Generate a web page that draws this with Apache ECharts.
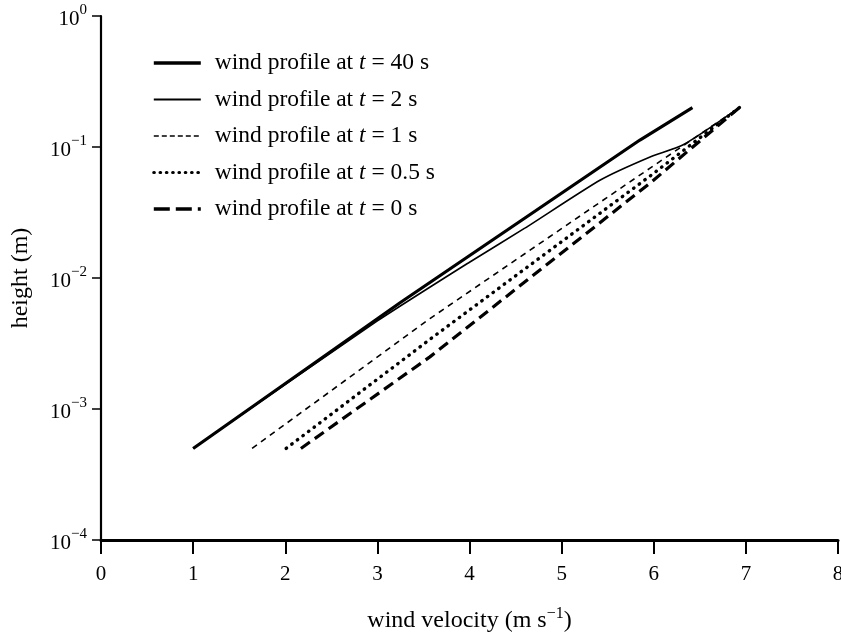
<!DOCTYPE html>
<html>
<head>
<meta charset="utf-8">
<script src="https://cdn.jsdelivr.net/npm/echarts@6/dist/echarts.min.js"></script>
<style>
  html, body { margin: 0; padding: 0; background: #fff; }
  #chart { width: 841px; height: 634px; }
</style>
</head>
<body>
<div id="chart"></div>
<script>
// wind velocity (m/s) and height (m)
const speed40 = [1.0, 3.25, 5.85, 6.42]
const height40 = [5e-4, 6.5e-3, 0.113, 0.2]
const speed2 = [1.0, 3.0, 4.0, 4.6, 5.42, 5.96, 6.32, 6.93]
const height2 = [5e-4, 4.7e-3, 0.0132, 0.024, 0.056, 0.084, 0.104, 0.2]
const speed1 = [1.64, 3.57, 5.96, 6.93]
const height1 = [5e-4, 4.9e-3, 0.069, 0.2]
const speed05 = [2.01, 3.57, 5.96, 6.93]
const height05 = [5e-4, 3.4e-3, 0.060, 0.2]
const speed0 = [2.17, 3.57, 5.96, 6.93]
const height0 = [5e-4, 2.5e-3, 0.053, 0.2]

const times = ['40', '2', '1', '0.5', '0'] // legend t values
const yExponents = [0, -1, -2, -3, -4] // tick labels 10^n

const serif = 'Liberation Serif'
const pairs = (xs, ys) => xs.map((x, i) => [x, ys[i]])

const chart = echarts.init(document.getElementById('chart'))

const lineStyles = [
  { width: 3.2, type: 'solid' },
  { width: 1.6, type: 'solid' },
  { width: 1.6, type: [6, 5] },
  { width: 3.4, type: [0.5, 6.5], cap: 'round' },
  { width: 3.2, type: [11, 6] }
]
// legend icons are short, so their dashes are a bit tighter
const legendLines = [
  { width: 3.6, type: 'solid' },
  { width: 1.8, type: 'solid' },
  { width: 1.6, type: [5, 3] },
  { width: 3.2, type: [0.5, 5.8], cap: 'round' },
  { width: 3.6, type: [16, 6] }
]
const smoothing = [false, 0.2, false, false, false] // only t = 2 s bends
const datasets = [
  pairs(speed40, height40),
  pairs(speed2, height2),
  pairs(speed1, height1),
  pairs(speed05, height05),
  pairs(speed0, height0)
]
const names = times.map(t => 'wind profile at t = ' + t + ' s')

chart.setOption({
  animation: false,
  textStyle: { fontFamily: serif, color: '#000' },
  grid: { left: 101, right: 3, top: 16, bottom: 94, outerBoundsMode: 'none' },
  legend: {
    orient: 'vertical',
    left: 147,
    top: 46,
    itemGap: 12.5,
    itemWidth: 47,
    itemHeight: 18,
    itemStyle: { color: 'rgba(0,0,0,0)', borderWidth: 0, opacity: 0 },
    textStyle: {
      fontFamily: serif,
      fontSize: 23.5,
      color: '#000',
      padding: [0, 0, 0, 9],
      rich: { i: { fontFamily: serif, fontSize: 23.5, fontStyle: 'italic' } }
    },
    formatter: name => name.replace(' t ', ' {i|t} '),
    data: names.map((n, i) => ({
      name: n,
      lineStyle: Object.assign({ color: '#000' }, legendLines[i])
    }))
  },
  xAxis: {
    type: 'value',
    min: 0,
    max: 8,
    interval: 1,
    name: 'wind velocity (m s{s|\u22121})',
    nameLocation: 'middle',
    nameGap: 66,
    nameTextStyle: {
      fontFamily: serif,
      fontSize: 24,
      color: '#000',
      rich: { s: { fontFamily: serif, fontSize: 16, padding: [0, 0, 14, 0] } }
    },
    axisLine: { onZero: false, lineStyle: { color: '#000', width: 3 } },
    axisTick: { length: 14, lineStyle: { color: '#000', width: 2 } },
    axisLabel: { fontFamily: serif, fontSize: 21, color: '#000', margin: 24 },
    splitLine: { show: false }
  },
  yAxis: {
    type: 'log',
    logBase: 10,
    min: 1e-4,
    max: 1,
    name: 'height (m)',
    nameLocation: 'middle',
    nameGap: 68,
    nameRotate: 90,
    nameTextStyle: { fontFamily: serif, fontSize: 24, color: '#000' },
    axisLine: { lineStyle: { color: '#000', width: 2.2 } },
    axisTick: { length: 9, lineStyle: { color: '#000', width: 1.5 } },
    axisLabel: {
      margin: 14,
      formatter: v => {
        const e = Math.round(Math.log10(v))
        if (yExponents.indexOf(e) < 0) return ''
        return '{b|10}{s|' + (e < 0 ? '\u2212' + (-e) : e) + '}'
      },
      rich: {
        b: { fontFamily: serif, fontSize: 21, color: '#000', padding: [6, 0, 0, 0] },
        s: { fontFamily: serif, fontSize: 15, color: '#000', padding: [0, 0, 12, 0] }
      }
    },
    splitLine: { show: false }
  },
  series: datasets.map((d, i) => ({
    name: names[i],
    type: 'line',
    symbol: 'none',
    smooth: smoothing[i],
    data: d,
    itemStyle: { color: '#000' },
    lineStyle: Object.assign({ color: '#000' }, lineStyles[i])
  }))
})
</script>
</body>
</html>
